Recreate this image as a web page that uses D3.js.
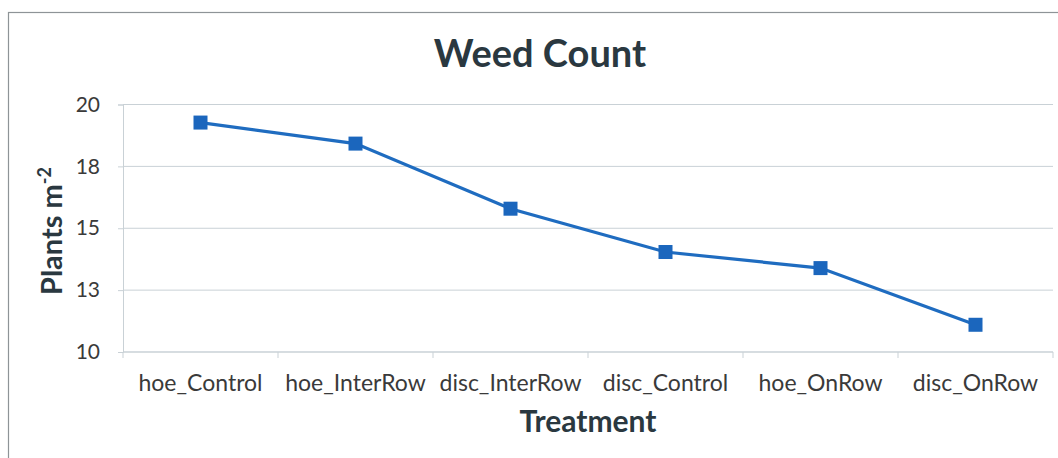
<!DOCTYPE html>
<html>
<head>
<meta charset="utf-8">
<script src="https://cdn.jsdelivr.net/npm/d3@7"></script>
<style>
  html, body { margin: 0; padding: 0; background: #fff; }
  svg { display: block; }
  text { font-family: Lato, "Open Sans", sans-serif; }
</style>
</head>
<body>
<svg id="chart" width="1058" height="458"></svg>
<script>
const categories = ["hoe_Control", "hoe_InterRow", "disc_InterRow", "disc_Control", "hoe_OnRow", "disc_OnRow"];
const weedCount = [19.27, 18.42, 15.79, 14.04, 13.39, 11.10];
const yTickValues = [10, 12.5, 15, 17.5, 20];
const yTickLabels = ["10", "13", "15", "18", "20"];
const chartTitle = "Weed Count";
const xTitle = "Treatment";

const W = 1058, H = 458;
const margin = { top: 104.5, right: 5, bottom: 106, left: 123 };
const svg = d3.select("#chart");

// outer chart border
svg.append("rect")
  .attr("x", 8.5).attr("y", 12.5)
  .attr("width", W + 20).attr("height", H + 20)
  .attr("fill", "none").attr("stroke", "#8e9497").attr("stroke-width", 1.2);

const x = d3.scaleBand().domain(categories).range([margin.left, W - margin.right]).padding(0);
const y = d3.scaleLinear().domain([10, 20]).range([H - margin.bottom, margin.top]);

const gridColor = "#c9d1d6";
const textColor = "#3a3a3a";
const titleColor = "#2a3840";

// horizontal gridlines
svg.append("g")
  .selectAll("line")
  .data(yTickValues)
  .join("line")
  .attr("x1", margin.left).attr("x2", W - margin.right)
  .attr("y1", d => y(d)).attr("y2", d => y(d))
  .attr("stroke", gridColor).attr("stroke-width", 1);

// y axis
const yAxis = d3.axisLeft(y)
  .tickValues(yTickValues)
  .tickFormat((d, i) => yTickLabels[i])
  .tickSize(5).tickPadding(18);
const gy = svg.append("g").attr("transform", `translate(${margin.left},0)`).call(yAxis);
gy.select(".domain").attr("stroke", gridColor);
gy.selectAll(".tick line").attr("stroke", gridColor);
gy.selectAll(".tick text").attr("font-size", 21).attr("fill", textColor)
  .attr("font-family", "Lato, sans-serif");

// x axis with tick marks at band boundaries
const xAxisG = svg.append("g").attr("transform", `translate(0,${y(10)})`);
xAxisG.append("line")
  .attr("x1", margin.left).attr("x2", W - margin.right)
  .attr("y1", 0).attr("y2", 0).attr("stroke", gridColor);
const boundaries = categories.map(c => x(c)).concat([x(categories[categories.length - 1]) + x.bandwidth()]);
xAxisG.selectAll("line.tk")
  .data(boundaries)
  .join("line").attr("class", "tk")
  .attr("x1", d => d).attr("x2", d => d)
  .attr("y1", 0).attr("y2", 6).attr("stroke", gridColor);
xAxisG.selectAll("text")
  .data(categories)
  .join("text")
  .attr("x", d => x(d) + x.bandwidth() / 2)
  .attr("y", 39)
  .attr("text-anchor", "middle")
  .attr("font-size", 23)
  .attr("fill", textColor)
  .text(d => d);

// line
const line = d3.line()
  .x((d, i) => x(categories[i]) + x.bandwidth() / 2)
  .y(d => y(d));
svg.append("path")
  .datum(weedCount)
  .attr("d", line)
  .attr("fill", "none")
  .attr("stroke", "#1f6cc0")
  .attr("stroke-width", 3.2);

// square markers
const ms = 14;
svg.append("g")
  .selectAll("rect")
  .data(weedCount)
  .join("rect")
  .attr("x", (d, i) => x(categories[i]) + x.bandwidth() / 2 - ms / 2)
  .attr("y", d => y(d) - ms / 2)
  .attr("width", ms).attr("height", ms)
  .attr("fill", "#1b66bd");

// title
svg.append("text")
  .attr("x", 540).attr("y", 67)
  .attr("text-anchor", "middle")
  .attr("font-size", 38).attr("font-weight", "bold")
  .attr("fill", titleColor)
  .text(chartTitle);

// x title
svg.append("text")
  .attr("x", 588).attr("y", 432)
  .attr("text-anchor", "middle")
  .attr("font-size", 30).attr("font-weight", "bold")
  .attr("fill", titleColor)
  .text(xTitle);

// y title with superscript
const yt = svg.append("text")
  .attr("transform", "translate(62,231) rotate(-90)")
  .attr("text-anchor", "middle")
  .attr("font-size", 29).attr("font-weight", "bold")
  .attr("fill", titleColor);
yt.append("tspan").text("Plants m");
yt.append("tspan").attr("dy", -11).attr("font-size", 18).text("-2");
</script>
</body>
</html>
